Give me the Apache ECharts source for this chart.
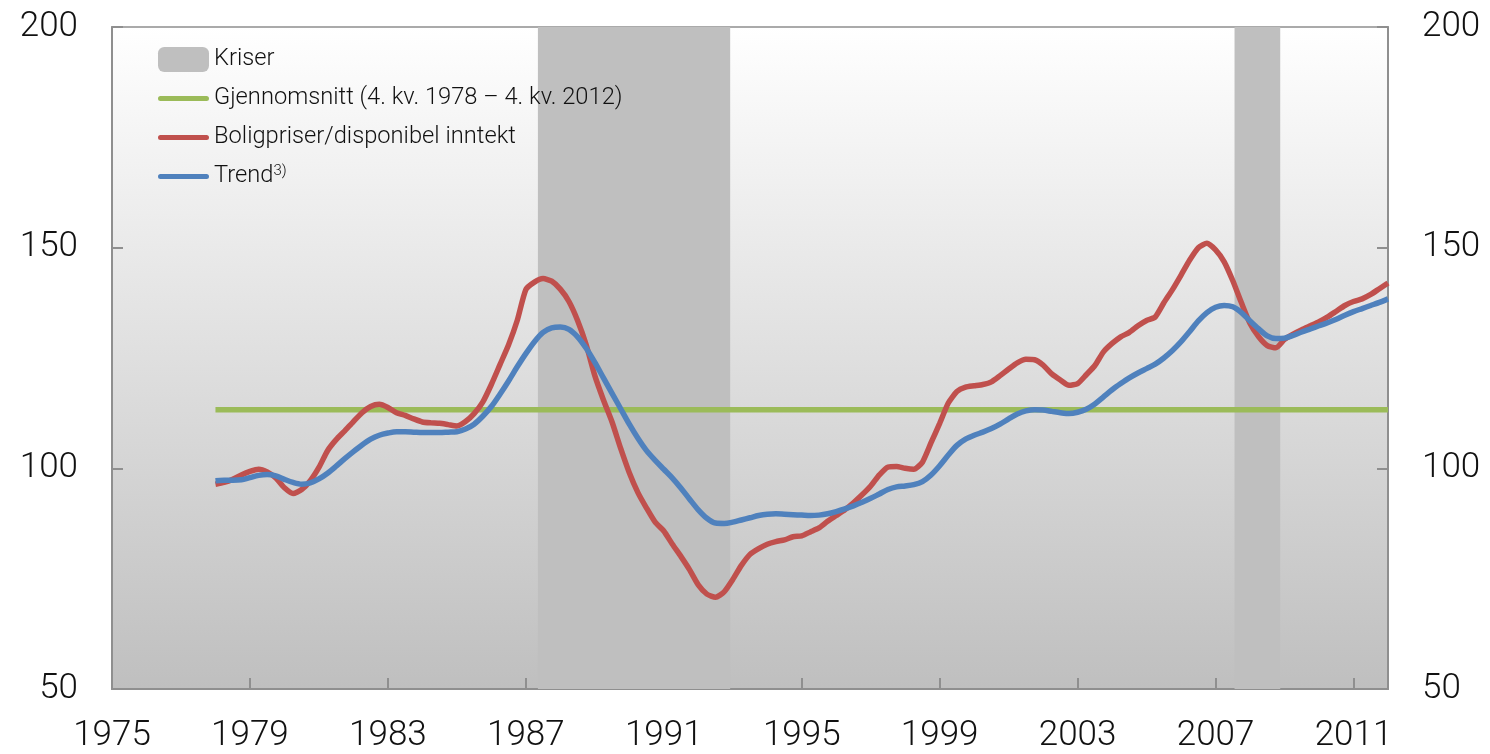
<!DOCTYPE html>
<html>
<head>
<meta charset="utf-8">
<script src="https://cdn.jsdelivr.net/npm/echarts@6/dist/echarts.min.js"></script>
<style>html,body{margin:0;padding:0;background:#fff}#c{width:1490px;height:754px}</style>
</head>
<body>
<div id="c"></div>
<script>
// Quarterly data, 4. kv. 1978 – 4. kv. 2012
const boligpriser = [
96.4,96.8,97.5,98.5,99.3,99.8,99.2,97.8,95.6,94.3,95.2,97.2,100.2,104,106.5,108.5,110.6,112.6,114,114.5,
113.8,112.6,112,111.2,110.5,110.3,110.2,109.9,109.6,110.6,112.4,115,119,123.5,128,133.5,140.5,142.2,143,142.4,
140.6,137.8,133.5,128,121,115.5,110.5,104.5,99,94.5,91,87.8,85.8,82.8,80,77,73.6,71.5,70.8,72,
74.8,78,80.5,81.8,82.8,83.4,83.8,84.5,84.7,85.6,86.5,88,89.3,90.6,92.2,94,96,98.5,100.3,100.4,
100,99.8,101.4,105.8,110.2,114.8,117.4,118.4,118.7,119,119.6,121,122.5,123.9,124.7,124.6,123.4,121.4,120,118.8,
119.2,121.2,123.3,126.4,128.3,129.8,130.8,132.3,133.5,134.3,137.5,140.5,143.8,147.2,150,151,149.5,146.8,142.5,137.5,
132.8,129.8,127.8,127.3,129.2,130.4,131.4,132.3,133.2,134.3,135.6,136.9,137.8,138.4,139.4,140.7,142
];
const trend = [
97.2,97.3,97.3,97.4,97.9,98.4,98.6,98.3,97.5,96.8,96.4,96.7,97.6,98.9,100.5,102.2,103.8,105.3,106.6,107.5,
108,108.3,108.3,108.2,108.1,108.1,108.1,108.2,108.3,108.9,110,111.8,114,116.8,119.8,123,126,128.7,130.8,131.8,
132,131.5,129.8,127.2,124,120.5,117,113.5,110,106.8,104,101.8,99.8,97.8,95.5,93,90.6,88.7,87.6,87.5,
87.8,88.3,88.8,89.3,89.6,89.7,89.6,89.5,89.4,89.3,89.4,89.7,90.2,90.8,91.5,92.3,93.2,94.2,95.2,95.8,
96,96.3,97,98.5,100.6,103,105.2,106.6,107.5,108.2,109,110,111.2,112.3,113,113.3,113.2,112.9,112.6,112.4,
112.7,113.4,114.6,116.2,117.8,119.2,120.5,121.6,122.6,123.6,125,126.7,128.7,131,133.4,135.3,136.5,136.9,136.6,135.3,
133.4,131.6,130,129.4,129.5,130.1,130.9,131.6,132.3,133,133.8,134.7,135.5,136.2,136.9,137.6,138.4
];
const gjennomsnitt = 113.3;
// crisis periods as axis positions (quarters from start of axis)
const kriser = [[49.4, 71.7], [130.2, 135.5]];
const yTicks = [50, 100, 150, 200];
const xStartYear = 1975;   // axis label at position 0
const dataOffset = 12;     // position of first observation

const redData = boligpriser.map((v, i) => [dataOffset + i, v]);
const blueData = trend.map((v, i) => [dataOffset + i, v]);
const lastPos = dataOffset + boligpriser.length - 1;
const avgData = [[dataOffset, gjennomsnitt], [lastPos, gjennomsnitt]];

const FONT = 'Roboto';
const LINE_ICON = 'path://M0,0h1v0h-1z M2.5,10h46a2.5,2.5 0 0 1 0,5h-46a2.5,2.5 0 0 1 0,-5z M0,25h1v0h-1z';
const chart = echarts.init(document.getElementById('c'), null, {renderer: 'canvas'});
const axisLabel = {color: '#111', fontSize: 35, fontFamily: FONT, fontWeight: 300};
chart.setOption({
  animation: false,
  grid: {
    left: 112, right: 102, top: 27, bottom: 64,
    show: true, borderColor: '#8f8f8f', borderWidth: 1.5,
    backgroundColor: {type: 'linear', x: 0, y: 0, x2: 0, y2: 1,
      colorStops: [{offset: 0, color: '#ffffff'}, {offset: 1, color: '#bfbfbf'}]}
  },
  legend: {
    orient: 'vertical', left: 158, top: 47, padding: 0, itemWidth: 51, itemHeight: 25, itemGap: 14,
    textStyle: {fontFamily: FONT, fontSize: 23.7, color: '#111', fontWeight: 300,
      rich: {s: {fontSize: 15, verticalAlign: 'top', padding: [0, 0, 10, 0], fontFamily: FONT, color: '#111'}}},
    formatter: n => n === 'Trend' ? 'Trend{s|3)}' : n,
    data: [
      {name: 'Kriser', icon: 'roundRect', itemStyle: {color: '#bfbfbf'}},
      {name: 'Gjennomsnitt (4. kv. 1978 – 4. kv. 2012)', icon: LINE_ICON},
      {name: 'Boligpriser/disponibel inntekt', icon: LINE_ICON},
      {name: 'Trend', icon: LINE_ICON}
    ]
  },
  xAxis: {
    type: 'value', min: 0, max: 148, interval: 16,
    axisLine: {show: true, lineStyle: {color: '#8f8f8f', width: 2}},
    axisTick: {show: true, inside: true, length: 11, lineStyle: {color: '#8f8f8f', width: 2}},
    splitLine: {show: false},
    axisLabel: Object.assign({margin: 30, formatter: v => String(xStartYear + v / 4)}, axisLabel)
  },
  yAxis: [0, 1].map(k => ({
    type: 'value', min: yTicks[0], max: yTicks[yTicks.length - 1], interval: 50,
    position: k === 0 ? 'left' : 'right',
    axisLine: {show: true, lineStyle: {color: '#8f8f8f', width: 2}},
    axisTick: {show: true, inside: true, length: 11, lineStyle: {color: '#8f8f8f', width: 2}},
    splitLine: {show: false},
    axisLabel: Object.assign({margin: 34}, axisLabel)
  })),
  series: [
    {name: 'Kriser', type: 'line', data: [], itemStyle: {color: '#bfbfbf'},
      markArea: {silent: true, itemStyle: {color: '#bfbfbf'},
        data: kriser.map(k => [{xAxis: k[0], yAxis: 50}, {xAxis: k[1], yAxis: 200}])}},
    {name: 'Gjennomsnitt (4. kv. 1978 – 4. kv. 2012)', type: 'line', data: avgData, showSymbol: false, symbol: 'none',
      itemStyle: {color: '#9bbb59'}, lineStyle: {color: '#9bbb59', width: 5.5}},
    {name: 'Boligpriser/disponibel inntekt', type: 'line', data: redData, showSymbol: false, symbol: 'none', smooth: 0.2,
      itemStyle: {color: '#c0504d'}, lineStyle: {color: '#c0504d', width: 5.5}},
    {name: 'Trend', type: 'line', data: blueData, showSymbol: false, symbol: 'none', smooth: 0.3,
      itemStyle: {color: '#4f81bd'}, lineStyle: {color: '#4f81bd', width: 5.5}}
  ]
});
</script>
</body>
</html>
